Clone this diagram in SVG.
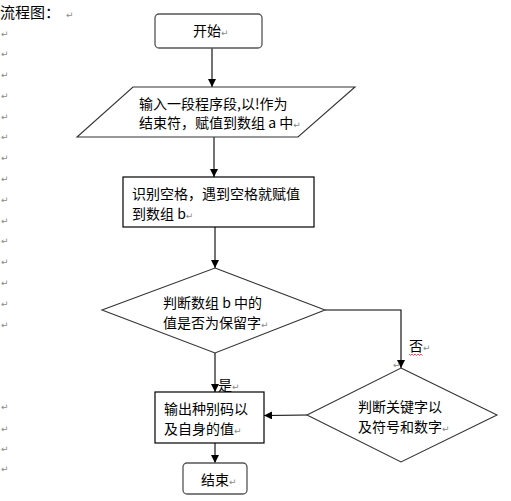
<svg xmlns="http://www.w3.org/2000/svg" width="511" height="501" viewBox="0 0 511 501">
<style>
text{font-family:"Noto Sans CJK SC","Liberation Sans",sans-serif;font-size:14px;fill:#000}
.pm{font-family:"DejaVu Sans",sans-serif;font-size:9px;fill:#888}
.box{fill:#fff;stroke:#555;stroke-width:1.3}
.rect{fill:#fff;stroke:#000;stroke-width:1.2}
.dia{fill:#fff;stroke:#333;stroke-width:1.1}
.con{fill:none;stroke:#000;stroke-width:1.1;marker-end:url(#ah)}
</style>
<defs>
<marker id="ah" viewBox="0 0 10 10" refX="10" refY="5" markerWidth="8" markerHeight="8" markerUnits="userSpaceOnUse" orient="auto">
<path d="M0,0 L10,5 L0,10 z" fill="#000"/>
</marker>
</defs>
<rect width="511" height="501" fill="#fff"/>
<g id="title">
<text x="0" y="18" style="font-size:15px">流程图：<tspan class="pm" dx="6">↵</tspan></text>
</g>
<g id="marks" class="pm">
<text class="pm" x="1" y="37">↵</text>
<text class="pm" x="1" y="57">↵</text>
<text class="pm" x="1" y="78">↵</text>
<text class="pm" x="1" y="99">↵</text>
<text class="pm" x="1" y="120">↵</text>
<text class="pm" x="1" y="140">↵</text>
<text class="pm" x="1" y="161">↵</text>
<text class="pm" x="1" y="182">↵</text>
<text class="pm" x="1" y="203">↵</text>
<text class="pm" x="1" y="224">↵</text>
<text class="pm" x="1" y="244">↵</text>
<text class="pm" x="1" y="265">↵</text>
<text class="pm" x="1" y="286">↵</text>
<text class="pm" x="1" y="307">↵</text>
<text class="pm" x="1" y="328">↵</text>
<text class="pm" x="1" y="410">↵</text>
<text class="pm" x="1" y="432">↵</text>
<text class="pm" x="1" y="452">↵</text>
<text class="pm" x="1" y="472">↵</text>
</g>
<g id="connectors">
<line class="con" x1="212" y1="48" x2="212" y2="87"/>
<line class="con" x1="214" y1="137" x2="214" y2="177"/>
<line class="con" x1="215" y1="227" x2="215" y2="268"/>
<polyline class="con" points="325,310 401,310 401,368"/>
<line class="con" x1="215" y1="353" x2="215" y2="392"/>
<line class="con" x1="307" y1="415" x2="264" y2="415.5"/>
<line class="con" x1="215" y1="443" x2="215" y2="463"/>
</g>
<g id="labels">
<text x="409" y="351">否<tspan class="pm">↵</tspan></text>
<path d="M409,354 l1.5,1.5 l1.5,-1.5 l1.5,1.5 l1.5,-1.5 l1.5,1.5 l1.5,-1.5 l1.5,1.5 l1.5,-1.5 l1.5,1.5" fill="none" stroke="#e03030" stroke-width="0.8"/>
<text class="pm" x="393" y="368">↵</text>
<text x="218" y="390">是<tspan class="pm">↵</tspan></text>
</g>
<g id="start">
<rect class="box" x="155" y="14" width="107" height="34" rx="4"/>
<text x="193" y="36">开始<tspan class="pm">↵</tspan></text>
</g>
<g id="input">
<polygon class="dia" points="133,87 355,87 298,137 77,137"/>
<text x="139" y="109">输入一段程序段,以!作为</text>
<text x="139" y="128">结束符，赋值到数组 a 中<tspan class="pm">↵</tspan></text>
</g>
<g id="split">
<rect class="rect" x="123" y="177" width="191" height="50"/>
<text x="132" y="199">识别空格，遇到空格就赋值</text>
<text x="132" y="219">到数组 b<tspan class="pm">↵</tspan></text>
</g>
<g id="check1">
<polygon class="dia" points="215,268 325,310 215,353 102,310"/>
<text x="163" y="308">判断数组 b 中的</text>
<text x="163" y="328">值是否为保留字<tspan class="pm">↵</tspan></text>
</g>
<g id="check2">
<polygon class="dia" points="401,368 497,415 401,462 307,415"/>
<text x="358" y="412">判断关键字以</text>
<text x="358" y="432">及符号和数字<tspan class="pm">↵</tspan></text>
</g>
<g id="output">
<rect class="rect" x="155" y="392" width="109" height="51"/>
<text x="164" y="414">输出种别码以</text>
<text x="164" y="434">及自身的值<tspan class="pm">↵</tspan></text>
</g>
<g id="end">
<rect class="box" x="183" y="463" width="64" height="31" rx="4"/>
<text x="201" y="485">结束<tspan class="pm">↵</tspan></text>
</g>
</svg>
